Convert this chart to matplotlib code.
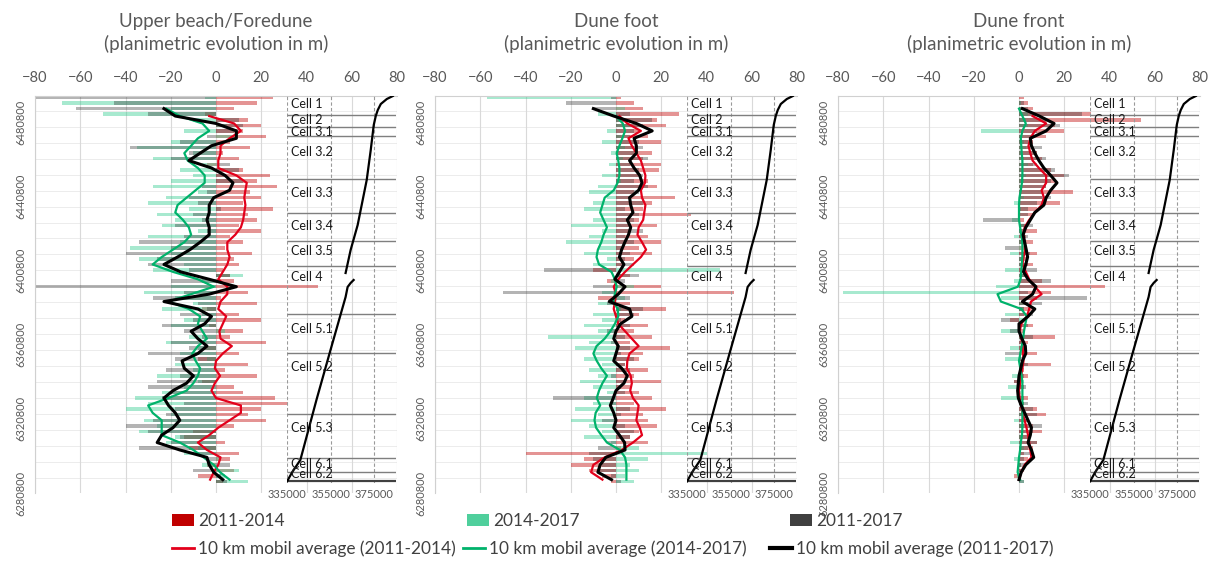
import numpy as np
import matplotlib.pyplot as plt
from matplotlib.patches import Patch
from matplotlib.lines import Line2D

plt.rcParams['font.family'] = ['Lato', 'DejaVu Sans']
nan = np.nan

# northing of the transects (km) used for the bars
bar_north = [6494, 6491, 6488, 6485, 6482, 6479, 6476, 6473, 6470, 6467,
             6464, 6461, 6458, 6455, 6452, 6449, 6446, 6443, 6440, 6437,
             6434, 6431, 6428, 6425, 6422, 6419, 6416, 6413, 6410, 6407,
             6404, 6401, 6398, 6395, 6392, 6389, 6386, 6383, 6380, 6377,
             6374, 6371, 6368, 6365, 6362, 6359, 6356, 6353, 6350, 6347,
             6344, 6341, 6338, 6335, 6332, 6329, 6326, 6323, 6320, 6317,
             6314, 6311, 6308, 6305, 6302, 6299, 6296, 6293, 6290, 6287]

# northing (km) of the 10 km mobile average points
avg_north = [6492, 6488, 6484, 6480, 6476, 6472, 6468, 6464, 6460, 6456,
             6452, 6448, 6444, 6440, 6436, 6432, 6428, 6424, 6420, 6416,
             6412, 6408, 6404, 6400, 6396, 6392, 6388, 6384, 6380, 6376,
             6372, 6368, 6364, 6360, 6356, 6352, 6348, 6344, 6340, 6336,
             6332, 6328, 6324, 6320, 6316, 6312, 6308, 6304, 6300, 6296,
             6292, 6288]

# Upper beach / foredune
beach_bar_1114 = [25, 18, 8, -5, 14, 20, 12, 22, 6, 15, 3, 10, -4, 12, 24, 18, 27, 15, 20, 12,
                  25, 14, 18, 10, 20, 6, 12, 4, 16, 8, 10, 3, 6, 8, 45, 14, 2, 18, -6, 10,
                  20, -3, 12, 6, 22, -5, 10, -8, 14, 4, 18, -6, 8, 12, 26, 32, 20, 14, 22, 8,
                  -10, -14, 4, -12, 10, 6, -4, 8, -8, 3]
beach_bar_1417 = [-5, -68, -20, -50, -10, 5, -14, 8, -20, -35, -10, -28, -6, -16, -10, -20, -28, -8, -22, -30,
                  -12, -26, -18, -24, -8, -30, -16, -38, -20, -34, -14, -28, 12, -6, -20, -32, -18, -10, -24, -6,
                  -14, -20, 4, -12, -22, -8, -16, -4, -18, -10, -26, -8, -14, -24, -36, -30, -40, -20, -32, -26,
                  -34, -18, -22, -8, -14, 2, -6, 10, 4, 14]
beach_bar_1117 = [-80, -45, -62, -30, 10, 12, 8, -4, -16, -38, -12, -20, 6, 10, 4, 12, -6, -4, -12, -8,
                  2, -10, -6, -18, -4, -14, -34, -20, -40, -26, -30, -12, 6, -20, -80, -14, -28, -8, -4, -16,
                  -10, -24, -14, -6, -20, -12, -30, -18, -8, -22, -16, -26, -30, -20, -24, -14, -18, -22, -28, -40,
                  -30, -16, -20, -34, -8, -4, 6, -10, 2, 5]
beach_avg_1114 = [nan, nan, -3, 8, 11, 6, 2, 2, 1, 1, 9, 13.6, 13, 12.5, 13, 12.5, 12, 11, 8.5, 5,
                  5, 6, 5, 3, 1, 5, 5, 2, 1, 4.5, 3, 1.5, 2, 7, 3, 0, -0.5, 1.8, -0.5, -2,
                  0, 11, 11, 6, 1, -3, -8, -4, 2, 1, -1, -2.6]
beach_avg_1417 = [nan, -22, -16, -6, -3, -8, -11, -14, -12.5, -8, -5, -5, -9, -13, -17, -18, -14.6, -12, -11, -14,
                  -19, -24, -28, -19, -8, -1, -11, -21, -12, -7, -8, -6, -4, -8, -10.5, -9, -7, -8, -10, -13,
                  -21, -30, -28, -24, -24, -24, -16, -10, -5.5, -1, 1.8, 6]
beach_avg_1117 = [nan, -23, -18, 0, 9, 9, -2, -7, -12, -2, 4, 7.5, 6, -1, -3, -3, -4, -3, -3, -7,
                  -11.5, -17, -23, -15.6, -3, 9, -3, -23, -8, -2, -5, -11, -8, -4, -8, -15, -14, -10, -13, -19,
                  -23, -21, -18, -16, -19, -24, -26, -16, -4, -3, -1, 3]

# Dune foot
foot_bar_1114 = [2, 8, 12, 28, 18, 22, 10, 14, 20, 8, 16, 12, 20, 19, 10, 14, 18, 8, 26, 16,
                 12, 33, 10, 18, 6, 14, 20, 10, 16, 8, 4, -10, 6, -4, 20, 52, -8, 6, 22, 10,
                 4, 14, 8, 16, 6, 24, 12, 10, 4, 14, 8, 20, 6, 10, 16, 8, 22, 12, 14, 18,
                 10, 6, 14, 2, -40, -14, -20, -12, -6, -2]
foot_bar_1417 = [-57, 0, 4, -8, 2, 6, -4, 2, -6, 4, -2, 3, -3, 0, -6, 2, -8, -12, -4, -10,
                 -14, -6, -10, -20, -6, -12, -22, -8, -14, -4, -10, 46, 2, -2, 8, -6, 4, -8, 2, -10,
                 -6, -14, -8, -30, -12, -18, -10, -14, -6, -12, -8, -16, -10, -4, -14, -10, -18, -8, -20, -12,
                 -6, -14, -2, 10, 40, 14, 6, 10, 4, 8]
foot_bar_1117 = [-2, -22, -10, 6, 16, 12, 8, 6, 10, 12, 8, 14, 6, 10, 12, 8, 14, 10, 6, 12,
                 4, 10, 8, 6, 12, 4, 8, 2, 6, 4, 8, -32, 10, 4, -10, -50, 6, -4, 12, 8,
                 2, 6, -4, 4, -2, 6, 2, 8, 4, 6, -2, 4, 2, 4, -28, -2, 6, 2, -6, 4,
                 8, 6, -4, -8, -12, -10, -6, -8, -2, 2]
foot_avg_1114 = [nan, nan, 1.5, 5, 11, 5.5, 7, 9, 11, 12, 13, 12.8, 11, 11.5, 13, 12.5, 12, 10, 9.5, 11.5,
                 13.3, 11, 7.5, 4, 1, -1, 0, -0.5, -1, 0, 1, 4, 7, 10, 6, 5, 4.8, 6.5, 7, 6.3,
                 7.5, 10, 9.5, 9, 10.5, 11.5, 7.5, 2.5, -5, -10, -11, -6]
foot_avg_1417 = [nan, nan, 0, 3, 4, 2.8, 1.5, 0.3, 1, 1.5, 1.5, 0.7, -1, -5, -6, -7, -5.5, -4, -5.5, -6.5,
                 -8, -8.6, -7.5, -2, -0.5, 0.3, -0.5, -1.2, 0.8, 1, -0.5, -2.5, -5, -8.6, -10, -8.5, -6.5, -4, -6, -7.5,
                 -8.5, -7, -9, -9.5, -8.8, -6.5, -4, 1.7, 4, 4.6, 4.6, 4.6]
foot_avg_1117 = [nan, -10, -1, 9, 16, 8, 9, 9, 6, 8, 10.5, 11.5, 10, 6, 6.5, 7.5, 5, 6.5, 5.5, 3.9,
                 2.5, 1.5, 3.5, 1.5, -0.5, 4, 1, -3, 6, 7, 2, 0, -1, 1, 0, -1, 2.5, 5, 3.5, 0,
                 -1.2, -2.5, -1, 0, -1, 1.5, 3.8, 4, -4.5, -7, -8, -2]

# Dune front
front_bar_1114 = [2, 4, 6, 32, 54, 16, 20, 12, 6, 4, 8, 10, 6, 14, 20, 16, 12, 24, 10, 18,
                  8, 6, 2, 4, 8, 3, 6, 2, 8, 4, 6, 2, 4, 10, 38, 14, 8, 4, 6, 2,
                  -4, 6, 2, 16, 4, 2, 8, 1, 14, 2, 4, -2, 2, 0, 4, 2, 8, 12, 4, 6,
                  10, 4, 8, 6, 2, 4, 1, 2, -2, 0]
front_bar_1417 = [0, 1, 2, 4, 3, 4, -17, 1, 2, 3, 1, 2, 4, 1, 3, 2, 1, 0, 2, -2,
                  1, 0, -3, 2, 1, -2, 2, 1, -4, 2, 1, -6, 2, -2, -10, -78, -8, 4, 2, -6,
                  3, 1, -8, 2, 0, -4, 1, -6, 2, 0, -3, 2, -5, 1, -8, 2, 0, 1, -2, 2,
                  0, 1, -4, 2, 0, -2, 1, 0, -1, 2]
front_bar_1117 = [0, 2, 4, 28, 12, 18, 8, 6, 4, 10, 8, 12, 8, 16, 22, 14, 12, 10, 14, 8,
                  4, 4, -16, 6, 2, 4, 3, -6, 5, 2, 4, 8, 3, 14, 6, 4, 30, 10, 2, 6,
                  -8, 4, -4, 6, 2, 3, -6, 2, 4, 1, 2, -2, 3, 0, 2, 4, 6, 8, 4, 10,
                  6, 5, 8, 4, 6, 2, 3, 1, 0, 2]
front_avg_1114 = [nan, nan, 6, 12, 7, 5, 4.2, 5, 6, 8.8, 12, 12, 10, 11, 10, 7, 4.5, 2.5, 2, 2.5,
                  2.7, 2, 1.5, 3, 4.5, 7, 10, 5.3, 4.5, 3.5, 1, 0.3, 1, 1.6, 1.8, 2, 1.5, 1, 0.5, 0,
                  0.3, 1, 1.5, 2.5, 3.3, 4, 4.5, 5, 5.5, 2.5, 1, 0]
front_avg_1417 = [nan, 0, 1.5, 3, 1.5, 0.8, 1, 1.2, 1.5, 1.5, 1.5, 1.3, 0.8, 0.2, 0, 0, 0, 0.5, 1, 1.5,
                  1.5, 1.5, 1.2, 1, 0.7, -0.5, -9.5, -8, 1, 3.5, 2.8, 2.2, 1.8, 1.2, 0.6, 0, 0.6, 1.2, 1.5, 1.5,
                  1.5, 1.5, 1.5, 1.5, 1.5, 1.3, 0.8, 0.5, 0, -0.3, -0.6, 0.5]
front_avg_1117 = [nan, 1.5, 9, 15.5, 12, 5, 5.5, 7, 8.8, 11, 14, 16.8, 14, 12, 11, 7, 5, 3, 1.8, 2.5,
                  3.2, 3.8, 3, 2, 4, 7.5, 6, 1.5, 7, 4, 0, 0, 1.3, 2.8, 3, 1.5, 0.8, 0, -0.3, -0.6,
                  -0.3, 1, 2.5, 4, 5.5, 5, 4, 5.5, 6.5, 3, 1, 0]

# coastline (easting / northing, m), two segments split at cell 4
coast1_e = [383615, 380837, 378059, 376670, 375744, 374818, 373429, 371577, 369725, 367410, 364169, 361854]
coast1_n = [6494806, 6493190, 6490497, 6487264, 6484032, 6479184, 6465716, 6449555, 6438781, 6425313, 6411846, 6399456]
coast2_e = [365558, 364169, 362780, 362317, 361854, 354909, 348427, 341019, 337315, 335000]
coast2_n = [6395685, 6394069, 6391914, 6389221, 6386527, 6357976, 6331041, 6298718, 6292254, 6287406]

# sediment cells
cell_names = ["Cell 1", "Cell 2", "Cell 3.1", "Cell 3.2", "Cell 3.3", "Cell 3.4", "Cell 3.5",
              "Cell 4", "Cell 5.1", "Cell 5.2", "Cell 5.3", "Cell 6.1", "Cell 6.2"]
cell_label_n = [6490500, 6481900, 6475400, 6464600, 6442600, 6424800, 6411300,
                6397300, 6369300, 6348800, 6316000, 6296600, 6291200]
cell_bounds = [6484570, 6478100, 6473260, 6450100, 6431780, 6416700, 6403230,
               6377370, 6356360, 6323500, 6299800, 6292260]
cell_bottom = 6287410

ytick_vals = [6280800, 6320800, 6360800, 6400800, 6440800, 6480800]
xtick_vals = [-80, -60, -40, -20, 0, 20, 40, 60, 80]
inset_ticks = [335000, 355000, 375000]

panels = [
    ("Upper beach/Foredune", beach_bar_1114, beach_bar_1417, beach_bar_1117,
     beach_avg_1114, beach_avg_1417, beach_avg_1117),
    ("Dune foot", foot_bar_1114, foot_bar_1417, foot_bar_1117,
     foot_avg_1114, foot_avg_1417, foot_avg_1117),
    ("Dune front", front_bar_1114, front_bar_1417, front_bar_1117,
     front_avg_1114, front_avg_1417, front_avg_1117),
]

c_red_bar, c_green_bar, c_grey_bar = '#c00000', '#2fcb8e', '#3a3a3a'
c_red, c_green = '#e3001b', '#00b26b'
grey_txt = '#595959'
y_top = 6494806
main_ylim = (6280800, y_top)      # axis reaches down to the last label
inset_ylim = (6286330, y_top)     # coastline box stops a little higher

W, H = 1213, 563
fig = plt.figure(figsize=(W / 100, H / 100), dpi=100)
lefts = [35, 435, 838]
top_px, bot_px, inset_bot_px = 96, 493, 483

bn = np.array(bar_north) * 1000.0
an = np.array(avg_north) * 1000.0

for k, (title, b1, b2, b3, a1, a2, a3) in enumerate(panels):
    ax = fig.add_axes([lefts[k] / W, (H - bot_px) / H, 362 / W, (bot_px - top_px) / H])

    for yv in np.arange(6289000, 6494000, 8600):
        ax.axhline(yv, color='#ececec', lw=0.7, zorder=0)
    ax.grid(axis='x', color='#d9d9d9', lw=0.8, zorder=0)
    ax.set_axisbelow(True)

    ax.barh(bn, b1, height=1900, color=c_red_bar, alpha=0.42, lw=0, zorder=2)
    ax.barh(bn, b2, height=1900, color=c_green_bar, alpha=0.42, lw=0, zorder=2)
    ax.barh(bn, b3, height=1900, color=c_grey_bar, alpha=0.38, lw=0, zorder=2)

    ax.plot(a1, an, color=c_red, lw=1.6, zorder=4)
    ax.plot(a2, an, color=c_green, lw=1.6, zorder=4)
    ax.plot(a3, an, color='black', lw=2.2, zorder=5)

    ax.xaxis.tick_top()
    ax.set_xticks(xtick_vals)
    ax.set_yticks(ytick_vals)
    ax.set_yticklabels([str(v) for v in ytick_vals], rotation=90, va='center')
    ax.set_xlim(-80, 80)
    ax.set_ylim(*main_ylim)
    ax.tick_params(axis='x', length=0, labelsize=10.5, colors=grey_txt, pad=8)
    ax.tick_params(axis='y', length=0, labelsize=8, colors=grey_txt, pad=6)
    for s in ['left', 'top']:
        ax.spines[s].set_color('#d0d0d0')
    for s in ['right', 'bottom']:
        ax.spines[s].set_visible(False)

    # coastline inset with cell limits
    frac_b = (bot_px - inset_bot_px) / (bot_px - top_px)
    ins = ax.inset_axes([(31.5 + 80) / 160, frac_b, 48 / 160, 1 - frac_b])
    ins.patch.set_alpha(0)
    for s in ins.spines.values():
        s.set_visible(False)
    ins.set_yticks([])
    ins.set_xticks(inset_ticks)
    ins.set_xticklabels([str(v) for v in inset_ticks])
    ins.set_xlim(335000, 385000)
    ins.set_ylim(*inset_ylim)
    ins.tick_params(axis='x', length=0, labelsize=8, colors=grey_txt, pad=4)
    for xv in inset_ticks:
        ins.axvline(xv, color='#9a9a9a', lw=0.8, ls=(0, (3, 2)), zorder=1)
    ins.hlines(cell_bounds, 335000, 385000, color='#7f7f7f', lw=1, zorder=2)
    ins.hlines([cell_bottom], 335000, 385000, color='#404040', lw=1.6, zorder=2)
    ins.plot(coast1_e, coast1_n, color='black', lw=1.6, zorder=3)
    ins.plot(coast2_e, coast2_n, color='black', lw=1.6, zorder=3)
    for name, yn in zip(cell_names, cell_label_n):
        ins.text(336800, yn, name, fontsize=9, va='center', ha='left', color='#1a1a1a', zorder=4)

    cx = (lefts[k] + 181) / W
    fig.text(cx, 1 - 33 / H, title + "\n(planimetric evolution in m)", ha='center', va='center',
             fontsize=13.5, color=grey_txt, linespacing=1.3)

# legend, two rows
leg_items = [
    (Patch(facecolor=c_red_bar), "2011-2014", 172, 521),
    (Patch(facecolor='#4fcf9c'), "2014-2017", 467, 521),
    (Patch(facecolor='#3f3f3f'), "2011-2017", 790, 521),
    (Line2D([], [], color=c_red, lw=2), "10 km mobil average (2011-2014)", 172, 549),
    (Line2D([], [], color=c_green, lw=2), "10 km mobil average (2014-2017)", 463, 549),
    (Line2D([], [], color='black', lw=3), "10 km mobil average (2011-2017)", 770, 549),
]
for h, lab, px, py in leg_items:
    fig.legend(handles=[h], labels=[lab], loc='center left', bbox_to_anchor=(px / W, 1 - py / H),
               frameon=False, fontsize=12.4, handlelength=1.3, handletextpad=0.2,
               borderpad=0, borderaxespad=0, labelcolor='#404040')

fig.savefig('out.png', dpi=100)
